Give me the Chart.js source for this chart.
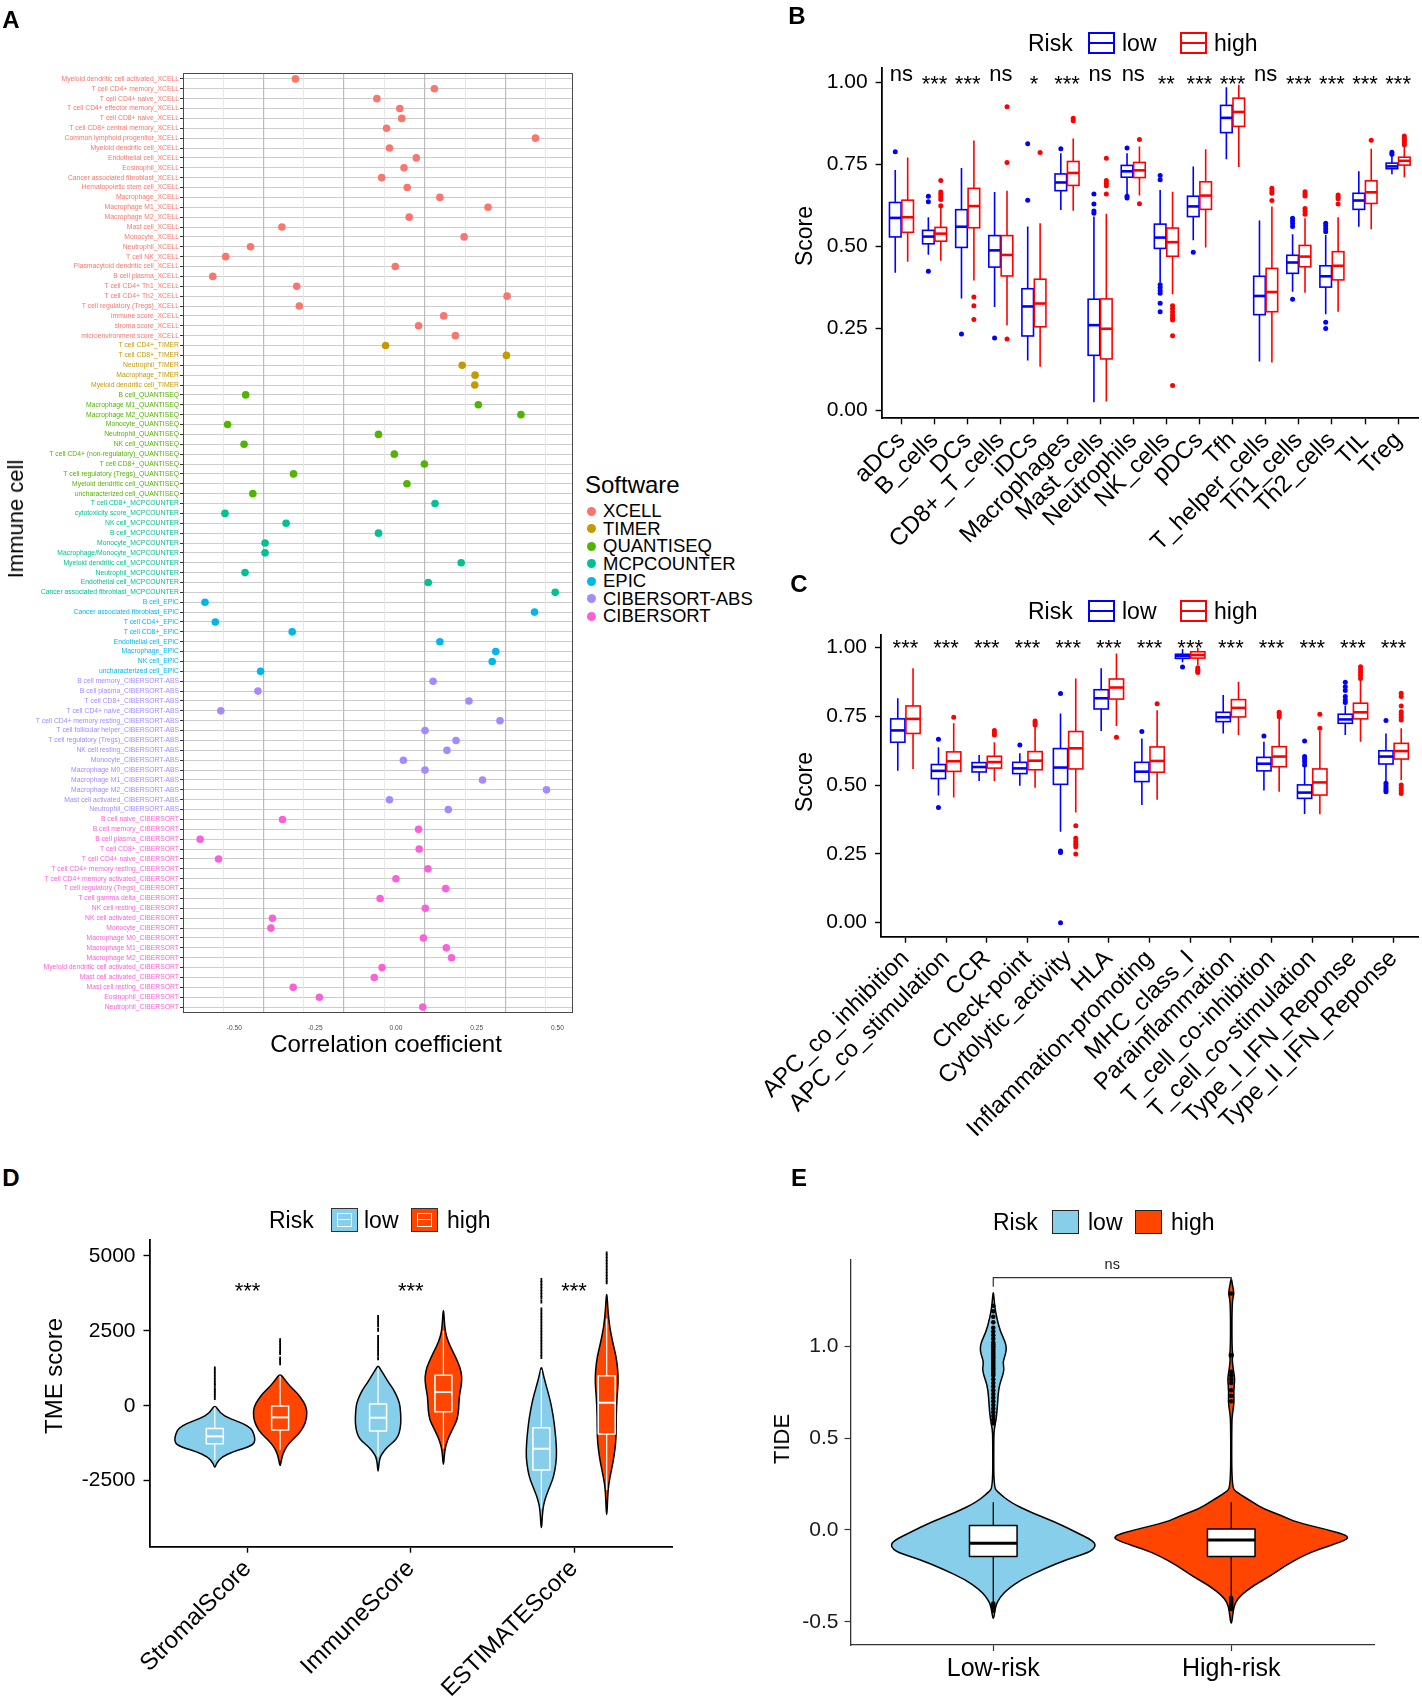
<!DOCTYPE html>
<html><head><meta charset="utf-8">
<script src="https://cdn.jsdelivr.net/npm/chart.js@4.4.1/dist/chart.umd.min.js"></script>
<style>
body{margin:0;background:#fff;font-family:"Liberation Sans",Arial,Helvetica,sans-serif;}
#wrap{position:relative;width:1422px;height:1696px;overflow:hidden;background:#fff;}
canvas{position:absolute;}
.t{position:absolute;white-space:nowrap;color:#000;line-height:1;}
.k{position:absolute;box-sizing:border-box;}
</style></head><body><div id="wrap"></div>
<script>
// ---------------- DATA ----------------
// Panel A
const cellNames = [
"Myeloid dendritic cell activated_XCELL","T cell CD4+ memory_XCELL","T cell CD4+ naive_XCELL","T cell CD4+ effector memory_XCELL","T cell CD8+ naive_XCELL","T cell CD8+ central memory_XCELL","Common lymphoid progenitor_XCELL","Myeloid dendritic cell_XCELL","Endothelial cell_XCELL","Eosinophil_XCELL","Cancer associated fibroblast_XCELL","Hematopoietic stem cell_XCELL","Macrophage_XCELL","Macrophage M1_XCELL","Macrophage M2_XCELL","Mast cell_XCELL","Monocyte_XCELL","Neutrophil_XCELL","T cell NK_XCELL","Plasmacytoid dendritic cell_XCELL","B cell plasma_XCELL","T cell CD4+ Th1_XCELL","T cell CD4+ Th2_XCELL","T cell regulatory (Tregs)_XCELL","immune score_XCELL","stroma score_XCELL","microenvironment score_XCELL",
"T cell CD4+_TIMER","T cell CD8+_TIMER","Neutrophil_TIMER","Macrophage_TIMER","Myeloid dendritic cell_TIMER",
"B cell_QUANTISEQ","Macrophage M1_QUANTISEQ","Macrophage M2_QUANTISEQ","Monocyte_QUANTISEQ","Neutrophil_QUANTISEQ","NK cell_QUANTISEQ","T cell CD4+ (non-regulatory)_QUANTISEQ","T cell CD8+_QUANTISEQ","T cell regulatory (Tregs)_QUANTISEQ","Myeloid dendritic cell_QUANTISEQ","uncharacterized cell_QUANTISEQ",
"T cell CD8+_MCPCOUNTER","cytotoxicity score_MCPCOUNTER","NK cell_MCPCOUNTER","B cell_MCPCOUNTER","Monocyte_MCPCOUNTER","Macrophage/Monocyte_MCPCOUNTER","Myeloid dendritic cell_MCPCOUNTER","Neutrophil_MCPCOUNTER","Endothelial cell_MCPCOUNTER","Cancer associated fibroblast_MCPCOUNTER",
"B cell_EPIC","Cancer associated fibroblast_EPIC","T cell CD4+_EPIC","T cell CD8+_EPIC","Endothelial cell_EPIC","Macrophage_EPIC","NK cell_EPIC","uncharacterized cell_EPIC",
"B cell memory_CIBERSORT-ABS","B cell plasma_CIBERSORT-ABS","T cell CD8+_CIBERSORT-ABS","T cell CD4+ naive_CIBERSORT-ABS","T cell CD4+ memory resting_CIBERSORT-ABS","T cell follicular helper_CIBERSORT-ABS","T cell regulatory (Tregs)_CIBERSORT-ABS","NK cell resting_CIBERSORT-ABS","Monocyte_CIBERSORT-ABS","Macrophage M0_CIBERSORT-ABS","Macrophage M1_CIBERSORT-ABS","Macrophage M2_CIBERSORT-ABS","Mast cell activated_CIBERSORT-ABS","Neutrophil_CIBERSORT-ABS",
"B cell naive_CIBERSORT","B cell memory_CIBERSORT","B cell plasma_CIBERSORT","T cell CD8+_CIBERSORT","T cell CD4+ naive_CIBERSORT","T cell CD4+ memory resting_CIBERSORT","T cell CD4+ memory activated_CIBERSORT","T cell regulatory (Tregs)_CIBERSORT","T cell gamma delta_CIBERSORT","NK cell resting_CIBERSORT","NK cell activated_CIBERSORT","Monocyte_CIBERSORT","Macrophage M0_CIBERSORT","Macrophage M1_CIBERSORT","Macrophage M2_CIBERSORT","Myeloid dendritic cell activated_CIBERSORT","Mast cell activated_CIBERSORT","Mast cell resting_CIBERSORT","Eosinophil_CIBERSORT","Neutrophil_CIBERSORT"];
const corrValues = [
-0.311,0.119,-0.059,0.012,0.018,-0.029,0.432,-0.020,0.063,0.025,-0.044,0.035,0.136,0.285,0.041,-0.353,0.211,-0.450,-0.527,-0.002,-0.567,-0.307,0.344,-0.299,0.148,0.070,0.184,
-0.032,0.342,0.205,0.245,0.244,
-0.465,0.255,0.387,-0.521,-0.054,-0.470,-0.005,0.088,-0.317,0.034,-0.443,
0.121,-0.529,-0.340,-0.054,-0.405,-0.405,0.202,-0.467,0.100,0.493,
-0.591,0.429,-0.559,-0.321,0.136,0.309,0.298,-0.419,
0.115,-0.427,0.226,-0.542,0.322,0.090,0.186,0.158,0.023,0.090,0.268,0.466,-0.020,0.162,
-0.351,0.070,-0.606,0.072,-0.549,0.099,0.000,0.154,-0.049,0.091,-0.382,-0.387,0.085,0.156,0.172,-0.043,-0.067,-0.318,-0.237,0.083];
const softwareNames = ["XCELL","TIMER","QUANTISEQ","MCPCOUNTER","EPIC","CIBERSORT-ABS","CIBERSORT"];
const softwareColors = ["#F8766D","#C49A00","#53B400","#00C094","#00B6EB","#A58AFF","#FB61D7"];
const corrTicks = [-0.5,-0.25,0,0.25,0.5];

// Panel B  stats = [lowerWhisker, Q1, median, Q3, upperWhisker]
const bCats = ["aDCs","B_cells","DCs","CD8+_T_cells","iDCs","Macrophages","Mast_cells","Neutrophils","NK_cells","pDCs","Tfh","T_helper_cells","Th1_cells","Th2_cells","TIL","Treg"];
const bSig = ["ns","***","***","ns","*","***","ns","ns","**","***","***","ns","***","***","***","***"];
const bLowStats = [[0.420,0.529,0.587,0.634,0.733],[0.475,0.508,0.530,0.549,0.589],[0.341,0.497,0.560,0.612,0.739],[0.315,0.437,0.488,0.533,0.666],[0.152,0.227,0.317,0.371,0.561],[0.611,0.670,0.695,0.721,0.784],[0.025,0.168,0.260,0.339,0.591],[0.660,0.711,0.729,0.747,0.784],[0.390,0.494,0.527,0.568,0.672],[0.519,0.591,0.622,0.653,0.744],[0.766,0.847,0.892,0.930,0.985],[0.149,0.292,0.349,0.409,0.579],[0.362,0.418,0.451,0.473,0.537],[0.293,0.376,0.409,0.441,0.535],[0.560,0.613,0.640,0.662,0.729],[0.720,0.737,0.744,0.754,0.780]];
const bHighStats = [[0.453,0.543,0.589,0.641,0.771],[0.456,0.516,0.539,0.558,0.622],[0.396,0.557,0.623,0.677,0.823],[0.260,0.410,0.474,0.533,0.670],[0.133,0.255,0.326,0.400,0.571],[0.609,0.686,0.724,0.759,0.829],[0.027,0.157,0.249,0.340,0.600],[0.655,0.710,0.732,0.756,0.805],[0.354,0.470,0.513,0.556,0.667],[0.497,0.613,0.655,0.697,0.796],[0.742,0.866,0.910,0.952,0.993],[0.146,0.301,0.361,0.433,0.622],[0.359,0.438,0.469,0.503,0.586],[0.301,0.398,0.441,0.484,0.589],[0.552,0.631,0.665,0.700,0.798],[0.711,0.748,0.761,0.772,0.803]];
const bLowOut = [[0.789],[0.653,0.636,0.424],[0.233],[0.221],[0.813,0.641],[0.798],[0.601,0.608,0.629,0.660],[0.800,0.653,0.648],[0.716,0.703,0.383,0.375,0.366,0.357,0.327,0.301],[0.482],[],[],[0.586,0.578,0.570,0.561,0.339],[0.571,0.563,0.554,0.545,0.269,0.250],[],[0.787,0.781]];
const bHighOut = [[],[0.701,0.666,0.659,0.651,0.643,0.624],[0.346,0.319,0.277],[0.926,0.756,0.218],[0.786],[0.891,0.883],[0.769,0.701,0.693,0.685,0.660],[0.826,0.630],[0.319,0.310,0.300,0.290,0.282,0.276,0.228,0.076],[],[],[0.677,0.670,0.662,0.640],[0.667,0.660,0.654,0.616,0.607,0.598],[0.657,0.651,0.645,0.629],[0.824],[0.837,0.830,0.823,0.816,0.810]];
const scoreTicks = [0,0.25,0.5,0.75,1];

// Panel C
const cCats = ["APC_co_inhibition","APC_co_stimulation","CCR","Check-point","Cytolytic_activity","HLA","Inflammation-promoting","MHC_class_I","Parainflammation","T_cell_co-inhibition","T_cell_co-stimulation","Type_I_IFN_Reponse","Type_II_IFN_Reponse"];
const cSig = ["***","***","***","***","***","***","***","***","***","***","***","***","***"];
const cLowStats = [[0.552,0.656,0.699,0.741,0.816],[0.462,0.524,0.552,0.575,0.638],[0.515,0.548,0.566,0.582,0.610],[0.498,0.542,0.561,0.583,0.616],[0.331,0.503,0.564,0.633,0.761],[0.697,0.777,0.816,0.847,0.925],[0.428,0.513,0.549,0.583,0.670],[0.947,0.961,0.970,0.976,0.995],[0.688,0.731,0.747,0.765,0.828],[0.481,0.552,0.578,0.601,0.658],[0.395,0.452,0.473,0.501,0.600],[0.682,0.725,0.739,0.758,0.790],[0.513,0.577,0.604,0.625,0.688]];
const cHighStats = [[0.559,0.688,0.741,0.788,0.925],[0.455,0.550,0.587,0.621,0.725],[0.515,0.562,0.584,0.605,0.656],[0.491,0.556,0.589,0.622,0.716],[0.401,0.559,0.634,0.695,0.888],[0.715,0.813,0.855,0.886,0.979],[0.447,0.547,0.588,0.639,0.772],[0.937,0.962,0.973,0.985,1.000],[0.682,0.748,0.781,0.811,0.876],[0.476,0.567,0.604,0.640,0.743],[0.394,0.464,0.510,0.559,0.697],[0.658,0.741,0.765,0.798,0.882],[0.519,0.595,0.624,0.652,0.707]];
const cLowOut = [[],[0.667,0.419],[],[0.646],[0.833,0.261,0.255,0.000],[],[0.695],[0.930],[],[0.679],[0.661,0.604,0.595,0.585,0.573],[0.874,0.858,0.844,0.822,0.810,0.801],[0.735,0.507,0.498,0.490,0.482,0.476]];
const cHighOut = [[],[0.747],[0.699,0.690,0.682],[0.733,0.726,0.719],[0.352,0.307,0.295,0.285,0.276,0.250],[0.674],[0.796],[0.927,0.920,0.915,0.910],[],[0.765,0.757,0.749],[0.758,0.707],[0.931,0.920,0.910,0.900,0.888],[0.834,0.822,0.788,0.767,0.757,0.747,0.737,0.501,0.490,0.480,0.470]];

// Panel D  violin profiles: [value, relative half-width]
const dCats = ["StromalScore","ImmuneScore","ESTIMATEScore"];
const dSig = ["***","***","***"];
const dTicks = [-2500,0,2500,5000];
const dLowStats = [[-1814,-1269,-1024,-757,-50],[-1703,-846,-401,56,1250],[-3428,-2148,-1436,-735,1200]];
const dHighStats = [[-1480,-812,-390,-11,1000],[-1425,-200,456,1013,2500],[-2816,-946,100,1002,2900]];
const dLowViolin = [
 [[45,0],[-256,0.13],[-423,0.35],[-590,0.68],[-757,0.88],[-924,0.94],[-1146,0.98],[-1313,0.92],[-1425,0.70],[-1536,0.45],[-1703,0.17],[-1925,0.04],[-2092,0]],
 [[1358,0],[1191,0.07],[968,0.17],[746,0.27],[523,0.38],[301,0.46],[78,0.52],[-145,0.54],[-367,0.55],[-590,0.55],[-812,0.53],[-1035,0.48],[-1202,0.38],[-1369,0.23],[-1536,0.13],[-1703,0.05],[-1925,0.02],[-2259,0]],
 [[1324,0],[1080,0.04],[746,0.10],[412,0.17],[78,0.23],[-367,0.29],[-812,0.33],[-1258,0.36],[-1703,0.37],[-2148,0.33],[-2482,0.27],[-2816,0.17],[-3150,0.08],[-3484,0.03],[-4263,0]]];
const dHighViolin = [
 [[1080,0],[857,0.12],[634,0.25],[412,0.42],[189,0.54],[-33,0.63],[-256,0.65],[-479,0.63],[-701,0.57],[-924,0.46],[-1146,0.29],[-1369,0.15],[-1592,0.07],[-1814,0.03],[-2059,0]],
 [[3361,0],[2638,0.03],[2304,0.07],[1970,0.17],[1636,0.29],[1302,0.40],[968,0.45],[634,0.43],[301,0.38],[-145,0.37],[-479,0.33],[-701,0.25],[-924,0.17],[-1146,0.10],[-1480,0.03],[-2115,0]],
 [[3884,0],[3194,0.03],[2638,0.07],[2081,0.15],[1636,0.23],[1191,0.27],[746,0.28],[301,0.25],[-367,0.23],[-1035,0.23],[-1480,0.20],[-1925,0.15],[-2371,0.08],[-2816,0.03],[-3907,0]]];
const dLowOut = [[1250,1150,1050,950,850,750,690,580,500,420,340,250],[2970,2870,2770,2670,2530,2300,2200,2100,2000,1900,1800,1700,1580],[4200,4100,4000,3900,3800,3700,3600,3470,3220,3120,3020,2920,2820,2720,2620,2520,2420,2320,2220,2120,2020,1920,1820,1720,1620]];
const dHighOut = [[2190,2100,2000,1900,1800,1750,1580,1500,1414],[],[5090,5000,4900,4800,4700,4600,4500,4400,4300,4200,4110]];

// Panel E
const eCats = ["Low-risk","High-risk"];
const eTicks = [-0.5,0,0.5,1.0];
const eStats = [[-0.39,-0.144,-0.073,0.024,0.151],[-0.36,-0.144,-0.055,0.005,0.151]];
const eViolin = [
 [[1.314,0],[1.223,0.01],[1.150,0.03],[1.078,0.06],[1.023,0.10],[0.987,0.11],[0.951,0.10],[0.914,0.08],[0.878,0.09],[0.842,0.08],[0.787,0.05],[0.732,0.04],[0.678,0.035],[0.605,0.025],[0.551,0.008],[0.496,0.004],[0.233,0.004],[0.205,0.04],[0.151,0.14],[0.096,0.31],[0.042,0.52],[-0.013,0.69],[-0.058,0.83],[-0.089,0.855],[-0.122,0.80],[-0.158,0.62],[-0.213,0.42],[-0.267,0.24],[-0.322,0.12],[-0.367,0.055],[-0.413,0.018],[-0.503,0]],
 [[1.378,0],[1.332,0.01],[1.287,0.025],[1.241,0.006],[0.969,0.006],[0.951,0.02],[0.932,0.006],[0.860,0.02],[0.823,0.03],[0.751,0.02],[0.696,0.025],[0.642,0.012],[0.587,0.004],[0.233,0.004],[0.205,0.045],[0.151,0.18],[0.115,0.27],[0.078,0.42],[0.042,0.54],[0.005,0.78],[-0.036,1.0],[-0.067,0.91],[-0.104,0.73],[-0.140,0.60],[-0.194,0.45],[-0.249,0.33],[-0.304,0.18],[-0.358,0.075],[-0.394,0.036],[-0.431,0.018],[-0.531,0]]];
const eOut = [
 [1.22,1.19,1.16,1.13,1.10,1.08,1.06,1.04,1.02,1.01,1.00,0.99,0.98,0.97,0.96,0.95,0.94,0.93,0.92,0.91,0.90,0.89,0.88,0.87,0.86,0.85,0.84,0.82,0.80,0.78,0.76,0.74,0.72,0.70,0.68,0.66,0.64,0.62,0.60,0.58,-0.40,-0.41,-0.42,-0.44],
 [1.287,0.951,0.86,0.84,0.82,0.80,0.76,0.73,0.70,-0.37,-0.38,-0.39,-0.40,-0.41,-0.42,-0.43]];
const eSig = "ns";

// ---------------- RENDER ----------------
const F = '"Liberation Sans", Arial, Helvetica, sans-serif';
Chart.defaults.font.family = F;
Chart.defaults.color = '#000';
const wrap = document.getElementById('wrap');

function mkCanvas(b){const c=document.createElement('canvas');c.width=b.w;c.height=b.h;Object.assign(c.style,{left:b.x+'px',top:b.y+'px',width:b.w+'px',height:b.h+'px'});wrap.appendChild(c);return c;}
function txt(s,x,y,o){o=o||{};const d=document.createElement('div');d.className='t';d.textContent=s;d.style.left=x+'px';d.style.top=y+'px';d.style.fontSize=(o.size||22)+'px';if(o.bold)d.style.fontWeight='bold';if(o.color)d.style.color=o.color;let tr=o.left?'translate(0,-50%)':'translate(-50%,-50%)';if(o.rot)tr+=' rotate('+o.rot+'deg)';d.style.transform=tr;wrap.appendChild(d);return d;}
function keyDiv(x,y,w,h,css){const d=document.createElement('div');d.className='k';Object.assign(d.style,{left:x+'px',top:y+'px',width:w+'px',height:h+'px'},css||{});wrap.appendChild(d);return d;}
function baseOpts(box,area){return {responsive:false,animation:false,events:[],layout:{padding:{left:0,top:area.t-box.y,right:box.x+box.w-area.r,bottom:0}},plugins:{legend:{display:false},tooltip:{enabled:false}}};}
function closedSmooth(ctx,pts){const n=pts.length,mid=(a,b)=>[(a[0]+b[0])/2,(a[1]+b[1])/2];let m=mid(pts[n-1],pts[0]);ctx.moveTo(m[0],m[1]);for(let i=0;i<n;i++){const p=pts[i],q=pts[(i+1)%n],mm=mid(p,q);ctx.quadraticCurveTo(p[0],p[1],mm[0],mm[1]);}ctx.closePath();}

// ===== Panel A =====
(function(){
 const box={x:0,y:0,w:580,h:1034}, area={l:183,t:73,r:573,b:1013};
 const gridMajor=[-0.411,-0.161,0.089,0.338], gridMinor=[-0.535,-0.286,-0.036,0.214,0.464];
 const swOf=n=>n.slice(n.lastIndexOf('_')+1);
 const colorOfRow=i=>softwareColors[softwareNames.indexOf(swOf(cellNames[i]))]||'#000';
 const datasets=softwareNames.map((sw,k)=>({label:sw,data:cellNames.map((n,i)=>({x:corrValues[i],y:i,s:swOf(n)})).filter(p=>p.s===sw),backgroundColor:softwareColors[k],borderWidth:0,pointRadius:3.8}));
 const frame={id:'frame',afterDraw(c){const a=c.chartArea,x=c.ctx;x.save();x.strokeStyle='#4a4a4a';x.lineWidth=1;x.strokeRect(Math.round(a.left)+0.5,Math.round(a.top)+0.5,Math.round(a.right-a.left)-1,Math.round(a.bottom-a.top)-1);x.restore();}};
 const o=baseOpts(box,area);
 o.scales={
  y:{type:'linear',reverse:true,min:-0.6,max:cellNames.length-0.4,
     afterBuildTicks:s=>{s.ticks=cellNames.map((_,i)=>({value:i}));},
     afterFit:s=>{s.width=area.l-box.x;},
     ticks:{autoSkip:false,font:{size:6.8},padding:1,color:c=>colorOfRow(c.tick.value),callback:v=>cellNames[v]},
     grid:{color:'#cdcdcd',lineWidth:1,tickLength:3,tickColor:'#333',tickWidth:1},border:{display:false}},
  x:{type:'linear',position:'bottom',weight:0,min:-0.659,max:0.548,
     afterBuildTicks:s=>{s.ticks=gridMinor.concat(gridMajor).sort((a,b)=>a-b).map(v=>({value:v}));},
     afterFit:s=>{s.height=0;},
     ticks:{display:false},grid:{drawTicks:false,color:c=>gridMajor.includes(c.tick.value)?'#bcbcbc':'#e4e4e4',lineWidth:c=>gridMajor.includes(c.tick.value)?1.2:0.9},border:{display:false}},
  x2:{type:'linear',position:'bottom',weight:1,min:-0.659,max:0.548,
     afterBuildTicks:s=>{s.ticks=corrTicks.map(v=>({value:v}));},
     afterFit:s=>{s.height=box.y+box.h-area.b;},
     ticks:{font:{size:6.6},color:'#4d4d4d',padding:3,maxRotation:0,autoSkip:false,callback:v=>v.toFixed(2)},
     grid:{display:false},border:{display:false}}
 };
 new Chart(mkCanvas(box),{type:'scatter',data:{datasets},options:o,plugins:[frame]});
 txt('A',11,20,{size:24,bold:true});
 txt('Immune cell',16,519,{size:22,rot:-90});
 txt('Correlation coefficient',386,1044,{size:24});
 txt('Software',585,485,{size:24,left:true});
 const ys=[511,528.5,546,563.5,581,598.5,616];
 softwareNames.forEach((s,k)=>{keyDiv(591-4.5,ys[k]-4.5,9,9,{borderRadius:'50%',background:softwareColors[k]});txt(s,603,ys[k],{size:18.5,left:true});});
})();

// ===== box plot helpers (B,C) =====
function boxesPlugin(groups,half,lw,mlw){return {id:'boxes',afterDatasetsDraw(c){const xs=c.scales.x,ys=c.scales.y,ctx=c.ctx;ctx.save();groups.forEach(g=>{g.stats.forEach((s,i)=>{const cx=xs.getPixelForValue(i+g.offset),w=xs.getPixelForValue(i+g.offset+half)-cx,p=s.map(v=>ys.getPixelForValue(v));ctx.strokeStyle=g.color;ctx.lineWidth=lw;ctx.beginPath();ctx.moveTo(cx,p[0]);ctx.lineTo(cx,p[1]);ctx.moveTo(cx,p[3]);ctx.lineTo(cx,p[4]);ctx.stroke();ctx.fillStyle='#fff';ctx.fillRect(cx-w,p[3],2*w,p[1]-p[3]);ctx.strokeRect(cx-w,p[3],2*w,p[1]-p[3]);ctx.lineWidth=mlw;ctx.beginPath();ctx.moveTo(cx-w,p[2]);ctx.lineTo(cx+w,p[2]);ctx.stroke();});});ctx.restore();}};}
function sigPlugin(sigs,nsVal,starVal,size){return {id:'sig',afterDraw(c){const xs=c.scales.x,ys=c.scales.y,ctx=c.ctx;ctx.save();ctx.font=size+'px '+F;ctx.fillStyle='#000';ctx.textAlign='center';ctx.textBaseline='alphabetic';sigs.forEach((s,i)=>{ctx.fillText(s,xs.getPixelForValue(i),ys.getPixelForValue(s==='ns'?nsVal:starVal));});ctx.restore();}};}
function outData(outs,offset){const a=[];outs.forEach((arr,i)=>arr.forEach(v=>a.push({x:i+offset,y:v})));return a;}

function boxPanel(box,area,cats,lowS,highS,lowO,highO,sigs,ymin,ymax,xfont){
 const o=baseOpts(box,area);
 o.scales={
  x:{type:'linear',min:-0.6,max:cats.length-0.4,
     afterBuildTicks:s=>{s.ticks=cats.map((_,i)=>({value:i}));},
     afterFit:s=>{s.height=box.y+box.h-area.b;},
     ticks:{autoSkip:false,minRotation:45,maxRotation:45,font:{size:xfont},color:'#000',padding:2,callback:v=>cats[v]},
     grid:{drawOnChartArea:false,tickLength:6,tickColor:'#000',tickWidth:1.4},border:{color:'#000',width:1.8}},
  y:{type:'linear',min:ymin,max:ymax,
     afterBuildTicks:s=>{s.ticks=scoreTicks.map(v=>({value:v}));},
     afterFit:s=>{s.width=area.l-box.x;},
     ticks:{font:{size:21},color:'#000',padding:8,callback:v=>v.toFixed(2)},
     grid:{drawOnChartArea:false,tickLength:6,tickColor:'#000',tickWidth:1.4},border:{color:'#000',width:1.8}}
 };
 new Chart(mkCanvas(box),{type:'scatter',data:{datasets:[
   {label:'low',data:outData(lowO,-0.1875),backgroundColor:'#0000FF',borderWidth:0,pointRadius:2.5},
   {label:'high',data:outData(highO,0.1875),backgroundColor:'#FF0000',borderWidth:0,pointRadius:2.5}]},
  options:o,plugins:[boxesPlugin([{stats:lowS,offset:-0.1875,color:'#0000FF'},{stats:highS,offset:0.1875,color:'#FF0000'}],0.175,1.6,2.6),sigPlugin(sigs,1.005,0.975,22)]});
}
function riskLegendBox(y){
 txt('Risk',1028,y,{size:23,left:true});
 [[1088,'#0000FF','low',1122],[1180,'#FF0000','high',1214]].forEach(([x,c,l,tx])=>{
   const k=keyDiv(x,y-11,27,22,{border:'2px solid '+c,background:'#fff'});
   const m=document.createElement('div');Object.assign(m.style,{position:'absolute',left:'0',right:'0',top:'8px',height:'2px',background:c});k.appendChild(m);
   txt(l,tx,y,{size:23,left:true});});
}

// ===== Panel B =====
boxPanel({x:700,y:28,w:722,h:542},{l:881.6,t:68,r:1418,b:418.3},bCats,bLowStats,bHighStats,bLowOut,bHighOut,bSig,-0.024,1.044,24);
txt('B',797,16,{size:24,bold:true});
txt('Score',804,236,{size:23,rot:-90});
riskLegendBox(43);

// ===== Panel C =====
boxPanel({x:700,y:598,w:722,h:582},{l:881,t:635,r:1418,b:936.7},cCats,cLowStats,cHighStats,cLowOut,cHighOut,cSig,-0.051,1.046,24);
txt('C',799,584,{size:24,bold:true});
txt('Score',804,782,{size:23,rot:-90});
riskLegendBox(611);

// ===== violin helper =====
function violinPlugin(items){return {id:'violins',beforeDatasetsDraw(c){const ctx=c.ctx,xs=c.scales.x,ys=c.scales.y;ctx.save();items.forEach(it=>{const cx=xs.getPixelForValue(it.pos),unit=xs.getPixelForValue(it.pos+1)-cx,pts=[];it.profile.forEach(([v,r])=>pts.push([cx+r*it.maxHalf*unit,ys.getPixelForValue(v)]));for(let k=it.profile.length-2;k>=1;k--){const [v,r]=it.profile[k];pts.push([cx-r*it.maxHalf*unit,ys.getPixelForValue(v)]);}
 ctx.beginPath();closedSmooth(ctx,pts);ctx.fillStyle=it.fill;ctx.fill();ctx.lineWidth=it.outlineW;ctx.strokeStyle='#000';ctx.lineJoin='round';ctx.stroke();
 const s=it.stats.map(v=>ys.getPixelForValue(v)),bw=it.boxHalf*unit;ctx.strokeStyle=it.boxStroke;ctx.lineWidth=it.whiskW;ctx.beginPath();ctx.moveTo(cx,s[0]);ctx.lineTo(cx,s[1]);ctx.moveTo(cx,s[3]);ctx.lineTo(cx,s[4]);ctx.stroke();
 ctx.fillStyle=it.boxFill;ctx.fillRect(cx-bw,s[3],2*bw,s[1]-s[3]);ctx.lineWidth=it.boxW;ctx.strokeRect(cx-bw,s[3],2*bw,s[1]-s[3]);ctx.lineWidth=it.medW;ctx.beginPath();ctx.moveTo(cx-bw,s[2]);ctx.lineTo(cx+bw,s[2]);ctx.stroke();});ctx.restore();}};}

// ===== Panel D =====
(function(){
 const box={x:0,y:1205,w:720,h:491},area={l:149.5,t:1240,r:672,b:1546.7};
 const o=baseOpts(box,area);
 o.scales={
  x:{type:'linear',min:-0.6,max:dCats.length-0.4,afterBuildTicks:s=>{s.ticks=dCats.map((_,i)=>({value:i}));},afterFit:s=>{s.height=box.y+box.h-area.b;},
     ticks:{autoSkip:false,minRotation:45,maxRotation:45,font:{size:24},color:'#000',padding:2,callback:v=>dCats[v]},
     grid:{drawOnChartArea:false,tickLength:6,tickColor:'#000',tickWidth:1.4},border:{color:'#000',width:1.8}},
  y:{type:'linear',min:-4706,max:5531,afterBuildTicks:s=>{s.ticks=dTicks.map(v=>({value:v}));},afterFit:s=>{s.width=area.l-box.x;},
     ticks:{font:{size:21},color:'#000',padding:8,callback:v=>String(v)},
     grid:{drawOnChartArea:false,tickLength:6,tickColor:'#000',tickWidth:1.4},border:{color:'#000',width:1.8}}
 };
 const items=[];
 dCats.forEach((_,i)=>{
  items.push({pos:i-0.2,profile:dLowViolin[i],maxHalf:0.253,fill:'#87CEEB',outlineW:1.5,stats:dLowStats[i],boxHalf:0.052,boxStroke:'#fff',boxFill:'#87CEEB',whiskW:1.2,boxW:1.5,medW:2});
  items.push({pos:i+0.2,profile:dHighViolin[i],maxHalf:0.253,fill:'#FF4500',outlineW:1.5,stats:dHighStats[i],boxHalf:0.052,boxStroke:'#fff',boxFill:'#FF4500',whiskW:1.2,boxW:1.5,medW:2});
 });
 const outStyle={pointStyle:'line',rotation:90,borderColor:'#000',backgroundColor:'#000',borderWidth:1.8,pointRadius:1.8};
 new Chart(mkCanvas(box),{type:'scatter',data:{datasets:[
   Object.assign({label:'low',data:outData(dLowOut,-0.2)},outStyle),
   Object.assign({label:'high',data:outData(dHighOut,0.2)},outStyle)]},
  options:o,plugins:[violinPlugin(items),sigPlugin(dSig,3600,3600,22)]});
 txt('D',11,1178,{size:24,bold:true});
 txt('TME score',54,1376,{size:24,rot:-90});
 txt('Risk',269,1220,{size:23,left:true});
 [[331,'#87CEEB','low',364],[411,'#FF4500','high',447]].forEach(([x,c,l,tx])=>{
   const k=keyDiv(x,1208,27,24,{border:'1.5px solid #333',background:c});
   const inner=document.createElement('div');Object.assign(inner.style,{position:'absolute',left:'5px',right:'5px',top:'4px',bottom:'4px',border:'1.5px solid #fff',boxSizing:'border-box'});k.appendChild(inner);
   const m=document.createElement('div');Object.assign(m.style,{position:'absolute',left:'5px',right:'5px',top:'9.5px',height:'1.5px',background:'#fff'});k.appendChild(m);
   txt(l,tx,1220,{size:23,left:true});});
})();

// ===== Panel E =====
(function(){
 const box={x:760,y:1225,w:662,h:471},area={l:850.5,t:1260,r:1374,b:1645};
 const o=baseOpts(box,area);
 o.scales={
  x:{type:'linear',min:-0.6,max:eCats.length-0.4,afterBuildTicks:s=>{s.ticks=eCats.map((_,i)=>({value:i}));},afterFit:s=>{s.height=box.y+box.h-area.b;},
     ticks:{autoSkip:false,maxRotation:0,font:{size:25},color:'#000',padding:3,callback:v=>eCats[v]},
     grid:{drawOnChartArea:false,tickLength:6,tickColor:'#333',tickWidth:1.2},border:{color:'#333',width:1.3}},
  y:{type:'linear',min:-0.626,max:1.469,afterBuildTicks:s=>{s.ticks=eTicks.map(v=>({value:v}));},afterFit:s=>{s.width=area.l-box.x;},
     ticks:{font:{size:21},color:'#1a1a1a',padding:6,callback:v=>v.toFixed(1)},
     grid:{drawOnChartArea:false,tickLength:6,tickColor:'#333',tickWidth:1.2},border:{color:'#333',width:1.3}}
 };
 const items=eCats.map((_,i)=>({pos:i,profile:eViolin[i],maxHalf:0.505,fill:i?'#FF4500':'#87CEEB',outlineW:1.5,stats:eStats[i],boxHalf:0.1,boxStroke:'#000',boxFill:'#fff',whiskW:1.3,boxW:1.5,medW:3}));
 const bracket={id:'bracket',afterDraw(c){const ctx=c.ctx,xs=c.scales.x,ys=c.scales.y;const x0=xs.getPixelForValue(0),x1=xs.getPixelForValue(1),yb=ys.getPixelForValue(1.373);ctx.save();ctx.strokeStyle='#333';ctx.lineWidth=1.2;ctx.beginPath();ctx.moveTo(x0,ys.getPixelForValue(1.323));ctx.lineTo(x0,yb);ctx.lineTo(x1,yb);ctx.lineTo(x1,ys.getPixelForValue(1.359));ctx.stroke();ctx.font='14.5px '+F;ctx.fillStyle='#222';ctx.textAlign='center';ctx.textBaseline='alphabetic';ctx.fillText(eSig,(x0+x1)/2,ys.getPixelForValue(1.418));ctx.restore();}};
 new Chart(mkCanvas(box),{type:'scatter',data:{datasets:[
   {label:'out',data:outData(eOut,0),backgroundColor:'#000',borderWidth:0,pointRadius:2.3}]},
  options:o,plugins:[violinPlugin(items),bracket]});
 txt('E',799,1178,{size:24,bold:true});
 txt('TIDE',782,1439,{size:22,rot:-90});
 txt('Risk',993,1222,{size:23,left:true});
 [[1052,'#87CEEB','low',1088],[1135,'#FF4500','high',1171]].forEach(([x,c,l,tx])=>{
   keyDiv(x,1210,27,24,{border:'1.5px solid #222',background:c});
   txt(l,tx,1222,{size:23,left:true});});
})();
</script></body></html>
